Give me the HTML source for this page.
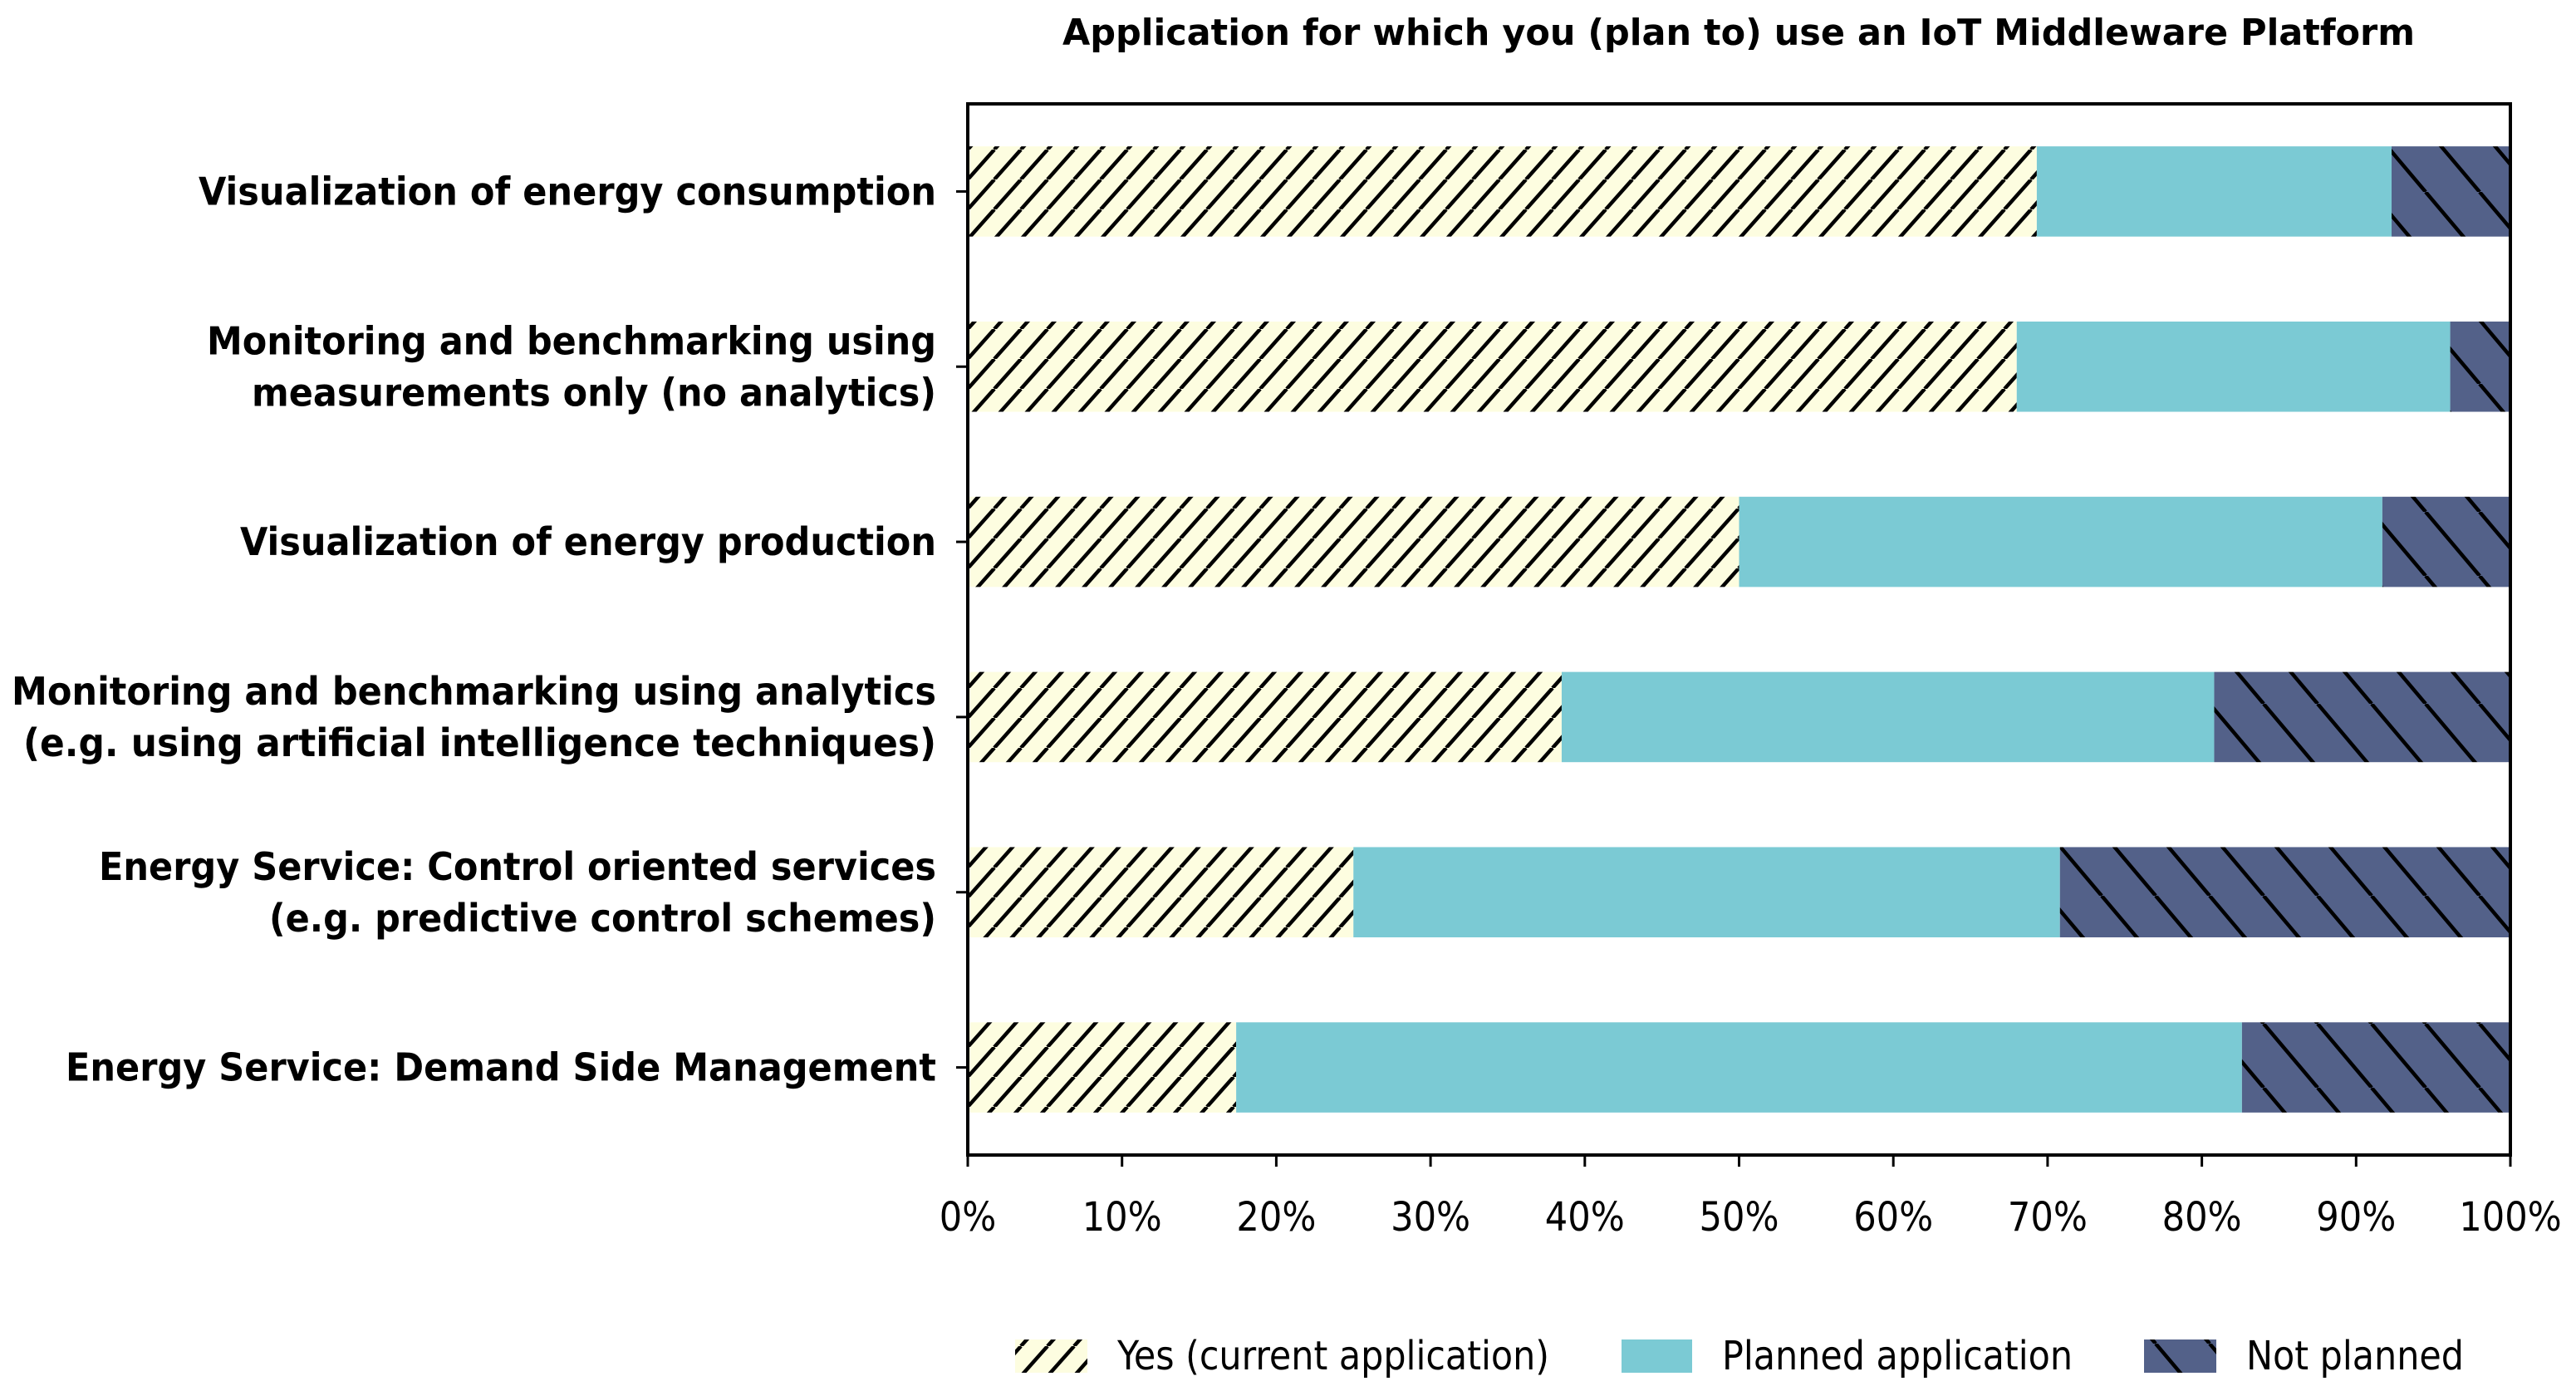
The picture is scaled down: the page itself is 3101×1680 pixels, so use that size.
<!DOCTYPE html>
<html><head><meta charset="utf-8"><style>
html,body{margin:0;padding:0;background:#fff}
svg{display:block}
text{font-family:"DejaVu Sans","Liberation Sans",sans-serif;font-stretch:condensed;fill:#000}
</style></head><body>
<svg id="chart" width="3101" height="1680" viewBox="0 0 3101 1680" xmlns="http://www.w3.org/2000/svg">
<defs>
<pattern id="hYes" patternUnits="userSpaceOnUse" x="1165" y="0" width="32" height="36">
<rect width="32" height="36" fill="#fdfde0"/>
<line x1="0" y1="36" x2="32" y2="0" stroke="#000" stroke-width="4.5"/>
<line x1="-32" y1="36" x2="0" y2="0" stroke="#000" stroke-width="4.5"/>
<line x1="32" y1="36" x2="64" y2="0" stroke="#000" stroke-width="4.5"/>
</pattern>
<pattern id="hNo" patternUnits="userSpaceOnUse" x="1165" y="0" width="65" height="77">
<rect width="65" height="77" fill="#536189"/>
<line x1="0" y1="0" x2="65" y2="77" stroke="#000" stroke-width="4.5"/>
<line x1="-65" y1="0" x2="0" y2="77" stroke="#000" stroke-width="4.5"/>
<line x1="65" y1="0" x2="130" y2="77" stroke="#000" stroke-width="4.5"/>
</pattern>
</defs>
<text x="2093" y="54" font-size="44" font-weight="bold" text-anchor="middle" textLength="1628" lengthAdjust="spacingAndGlyphs">Application for which you (plan to) use an IoT Middleware Platform</text>
<g id="bars"></g>
<g id="ylabels"></g>
<g id="xticks"></g>
<rect x="1165" y="125" width="1857" height="1265" fill="none" stroke="#000" stroke-width="4"/>
<g>
<rect x="1222" y="1612" width="87" height="40" fill="url(#hYes)"/>
<text x="1345" y="1648" font-size="48" textLength="520" lengthAdjust="spacingAndGlyphs">Yes (current application)</text>
<rect x="1952" y="1612" width="85" height="40" fill="#7bcad4"/>
<text x="2073" y="1648" font-size="48" textLength="422" lengthAdjust="spacingAndGlyphs">Planned application</text>
<rect x="2581" y="1612" width="87" height="40" fill="url(#hNo)"/>
<text x="2704" y="1648" font-size="48" textLength="262" lengthAdjust="spacingAndGlyphs">Not planned</text>
</g>
</svg>
<script>
const categories = [
  ["Visualization of energy consumption"],
  ["Monitoring and benchmarking using","measurements only (no analytics)"],
  ["Visualization of energy production"],
  ["Monitoring and benchmarking using analytics","(e.g. using artificial intelligence techniques)"],
  ["Energy Service: Control oriented services","(e.g. predictive control schemes)"],
  ["Energy Service: Demand Side Management"]
];
const yesValues = [69.3, 68.0, 50.0, 38.5, 25.0, 17.4];
const plannedValues = [23.0, 28.1, 41.7, 42.3, 45.8, 65.2];
const notPlannedValues = [7.7, 3.9, 8.3, 19.2, 29.2, 17.4];
const xTicks = [0,10,20,30,40,50,60,70,80,90,100];
const labelWidths = [[888],[878,824],[838],[1113,1099],[1008,803],[1048]];

const NS = "http://www.w3.org/2000/svg";
const X0 = 1165, X1 = 3022, YT = 125, YB = 1390;
const xScale = v => X0 + (v / 100) * (X1 - X0);
const band = (YB - YT) / categories.length;
const yScale = i => YT + band * (i + 0.5);
const barH = band * 0.515;

const bars = document.getElementById('bars');
const yl = document.getElementById('ylabels');
const xt = document.getElementById('xticks');
function mk(tag, attrs, parent){const e=document.createElementNS(NS,tag);for(const k in attrs)e.setAttribute(k,attrs[k]);parent.appendChild(e);return e;}

categories.forEach((cat, i) => {
  const cy = yScale(i);
  const segs = [[yesValues[i], 'url(#hYes)', 'bar-yes'], [plannedValues[i], '#7bcad4', 'bar-planned'], [notPlannedValues[i], 'url(#hNo)', 'bar-not-planned']];
  let acc = 0;
  segs.forEach(s => {
    const r = mk('rect', {x: xScale(acc), y: cy - barH/2, width: xScale(acc + s[0]) - xScale(acc), height: barH, fill: s[1]}, bars);
    
    
    acc += s[0];
  });
  const tk = mk('line', {x1: X0-14, x2: X0, y1: cy, y2: cy, stroke:'#000','stroke-width':3}, yl);
  
  
  const n = cat.length;
  cat.forEach((line, j) => {
    const y = n === 1 ? cy : cy + (j - 0.5) * 62;
    const t = mk('text', {x: 1127, y: y + 16, 'font-size': 46, 'font-weight': 'bold', 'text-anchor': 'end', textLength: labelWidths[i][j], lengthAdjust: 'spacingAndGlyphs'}, yl);
    t.textContent = line;
    
    
  });
});
xTicks.forEach(v => {
  const x = xScale(v);
  const l = mk('line', {x1: x, x2: x, y1: YB, y2: YB + 14, stroke: '#000', 'stroke-width': 3}, xt);
  
  
  const t = mk('text', {x: x, y: 1481, 'font-size': 48, 'text-anchor': 'middle'}, xt);
  t.textContent = v + '%';
  
  
});
</script>
</body></html>
